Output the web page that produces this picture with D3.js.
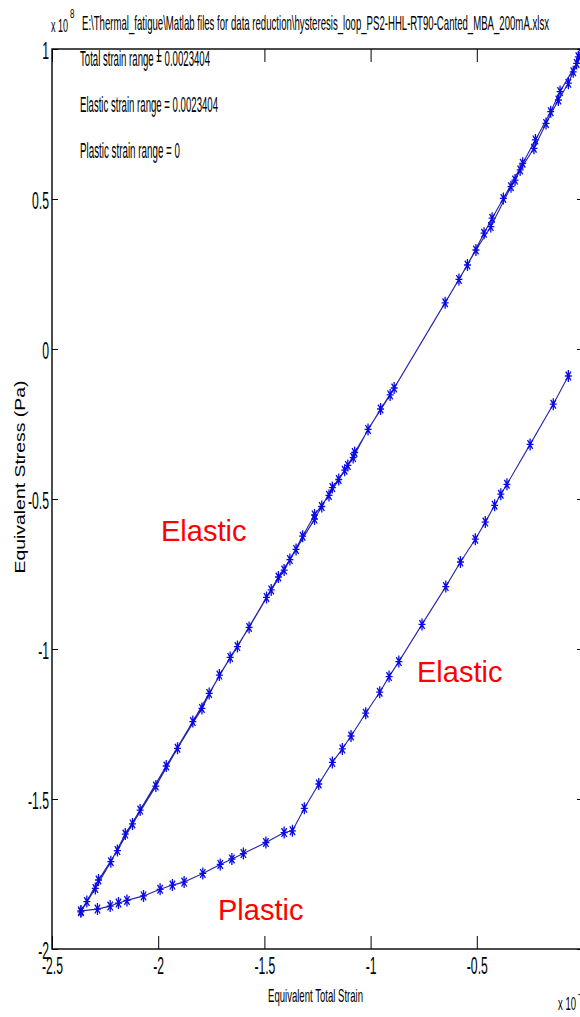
<!DOCTYPE html>
<html>
<head>
<meta charset="utf-8">
<script src="https://cdn.jsdelivr.net/npm/d3@7"></script>
<style>
  html, body { margin: 0; padding: 0; background: #fff; }
  svg { display: block; }
  text { font-family: "Liberation Sans", Arial, sans-serif; fill: #000; }
</style>
</head>
<body>
<svg id="chart" width="580" height="1017"></svg>
<script>
// Hysteresis loop: equivalent total strain (x 1e-3) vs equivalent stress (x 1e8 Pa)

// Loading branch, lower-left to upper-right
const loadStrain = [-2.364, -2.296, -2.223, -2.155, -2.085, -1.962, -1.837, -1.760, -1.661, -1.572,
  -1.468, -1.407, -1.351, -1.264, -1.230, -1.180, -1.122, -1.082, -1.012, -0.908,
  -0.649, -0.544, -0.466, -0.428, -0.375, -0.284, -0.224, -0.152, -0.108, -0.030, -0.022, -0.009];
const loadStress = [-1.876, -1.798, -1.709, -1.617, -1.537, -1.390, -1.242, -1.148, -1.028, -0.928,
  -0.803, -0.737, -0.668, -0.567, -0.525, -0.462, -0.404, -0.362, -0.268, -0.153,
  0.154, 0.280, 0.386, 0.436, 0.502, 0.619, 0.697, 0.791, 0.858, 0.952, 0.974, 0.987];

// Unloading branch, upper-right back to lower-left
const unloadStrain = [-0.046, -0.069, -0.116, -0.174, -0.231, -0.296, -0.320, -0.339, -0.434, -0.504,
  -0.584, -0.889, -0.953, -1.075, -1.107, -1.150, -1.196, -1.264, -1.320, -1.380,
  -1.434, -1.490, -1.627, -1.712, -1.794, -1.909, -2.011, -2.121, -2.192, -2.281, -2.336];
const unloadStress = [0.924, 0.886, 0.830, 0.752, 0.669, 0.597, 0.563, 0.541, 0.408, 0.330,
  0.232, -0.130, -0.200, -0.345, -0.388, -0.435, -0.488, -0.553, -0.624, -0.702,
  -0.760, -0.828, -0.992, -1.087, -1.198, -1.331, -1.457, -1.583, -1.672, -1.770, -1.842];

// Reloading branch: plastic flow followed by elastic recovery
const reloadStrain = [-2.364, -2.286, -2.226, -2.187, -2.147, -2.069, -1.991, -1.933, -1.878, -1.790,
  -1.708, -1.653, -1.599, -1.493, -1.407, -1.368, -1.312, -1.244, -1.180, -1.133,
  -1.092, -1.023, -0.957, -0.913, -0.867, -0.758, -0.646, -0.577, -0.507, -0.460,
  -0.416, -0.387, -0.358, -0.249, -0.140, -0.069];
const reloadStress = [-1.873, -1.867, -1.857, -1.847, -1.838, -1.823, -1.801, -1.787, -1.777, -1.748,
  -1.718, -1.700, -1.682, -1.645, -1.612, -1.606, -1.531, -1.450, -1.378, -1.333,
  -1.290, -1.214, -1.144, -1.092, -1.042, -0.918, -0.792, -0.710, -0.634, -0.577,
  -0.521, -0.484, -0.451, -0.318, -0.184, -0.090];

const xTicks = [-2.5, -2, -1.5, -1, -0.5, 0];
const xTickLabels = ["-2.5", "-2", "-1.5", "-1", "-0.5", ""];
const yTicks = [-2, -1.5, -1, -0.5, 0, 0.5, 1];
const yTickLabels = ["-2", "-1.5", "-1", "-0.5", "0", "0.5", "1"];

const titleText = "E:\\Thermal_fatigue\\Matlab files for data reduction\\hysteresis_loop_PS2-HHL-RT90-Canted_MBA_200mA.xlsx";
const infoLines = ["Total strain range = 0.0023404", "Elastic strain range = 0.0023404", "Plastic strain range = 0"];
const regionLabels = ["Elastic", "Elastic", "Plastic"];

// ---------------------------------------------------------------
const svg = d3.select("#chart");
svg.append("rect").attr("width", 580).attr("height", 1017).attr("fill", "#fff");

const L = 52, R = 583, T = 49, B = 949;
const x = d3.scaleLinear().domain([-2.5, 0]).range([L, R]);
const y = d3.scaleLinear().domain([-2, 1]).range([B, T]);
const SX = 0.53; // narrow glyphs

// loop line
const pts = [];
loadStrain.forEach((s, i) => pts.push([s, loadStress[i]]));
unloadStrain.forEach((s, i) => pts.push([s, unloadStress[i]]));
reloadStrain.forEach((s, i) => pts.push([s, reloadStress[i]]));

const line = d3.line().x(d => x(d[0])).y(d => y(d[1]));
svg.append("path").datum(pts)
  .attr("d", line)
  .attr("fill", "none")
  .attr("stroke", "#2626a8")
  .attr("stroke-width", 1.1)
  .attr("stroke-linejoin", "round");

// asterisk markers
const star = "M0,-6V6M-3.5,0H3.5M-2.6,-4.4L2.6,4.4M-2.6,4.4L2.6,-4.4";
svg.append("g").selectAll("path").data(pts).join("path")
  .attr("transform", d => `translate(${x(d[0])},${y(d[1])})`)
  .attr("d", star)
  .attr("fill", "none")
  .attr("stroke", "#0a0ae6")
  .attr("stroke-width", 1.3);

// axes
const styleTicks = g => {
  g.select(".domain").remove();
  g.selectAll(".tick line").attr("stroke", "#000").attr("stroke-width", 1);
};

const xAxis = svg.append("g").attr("transform", `translate(0,${B})`)
  .call(d3.axisBottom(x).tickValues(xTicks).tickFormat((d, i) => xTickLabels[i])
    .tickSizeInner(-13).tickSizeOuter(0).tickPadding(9));
styleTicks(xAxis);
xAxis.selectAll("text")
  .attr("font-size", 23).attr("font-family", "Liberation Sans, Arial, sans-serif")
  .attr("fill", "#000").attr("transform", `scale(${SX},1)`);

svg.append("g").attr("transform", `translate(0,${T})`)
  .call(d3.axisTop(x).tickValues(xTicks).tickFormat("").tickSizeInner(-13).tickSizeOuter(0))
  .call(styleTicks);

const yAxis = svg.append("g").attr("transform", `translate(${L},0)`)
  .call(d3.axisLeft(y).tickValues(yTicks).tickFormat((d, i) => yTickLabels[i])
    .tickSizeInner(-6).tickSizeOuter(0).tickPadding(3));
styleTicks(yAxis);
yAxis.selectAll("text")
  .attr("font-size", 23).attr("font-family", "Liberation Sans, Arial, sans-serif")
  .attr("fill", "#000").attr("x", -3 / SX).attr("dy", "0.42em")
  .attr("transform", `scale(${SX},1)`);

svg.append("g").attr("transform", `translate(${R},0)`)
  .call(d3.axisRight(y).tickValues(yTicks).tickFormat("").tickSizeInner(-6).tickSizeOuter(0))
  .call(styleTicks);

// axes box
svg.append("rect")
  .attr("x", L).attr("y", T).attr("width", R - L).attr("height", B - T)
  .attr("fill", "none").attr("stroke", "#000").attr("stroke-width", 1.4);

// narrow text helper
function narrowText(str, px, py, size, len, anchor) {
  return svg.append("text")
    .attr("x", px).attr("y", py)
    .attr("font-size", size)
    .attr("text-anchor", anchor || "start")
    .attr("textLength", len).attr("lengthAdjust", "spacingAndGlyphs")
    .text(str);
}

// exponent labels
narrowText("x 10", 51, 32, 19, 17);
narrowText("8", 70, 18, 12, 4.5);
narrowText("x 10", 558, 1010, 19, 18);
narrowText("-3", 578, 998, 12, 6);

// title and info text
narrowText(titleText, 82, 30, 21, 467);
narrowText(infoLines[0], 80, 66, 22, 130);
narrowText(infoLines[1], 80, 112, 22, 138);
narrowText(infoLines[2], 80, 158, 22, 100);

// axis titles
narrowText("Equivalent Total Strain", 268, 1002, 19, 95);
svg.append("text")
  .attr("transform", "translate(25,477) rotate(-90)")
  .attr("text-anchor", "middle")
  .attr("font-size", 14)
  .attr("textLength", 193).attr("lengthAdjust", "spacingAndGlyphs")
  .text("Equivalent Stress (Pa)");

// region annotations
const annot = [[161, 541], [417, 682], [218, 920]];
regionLabels.forEach((t, i) => {
  svg.append("text")
    .attr("x", annot[i][0]).attr("y", annot[i][1])
    .attr("font-family", "Lato, 'Open Sans', sans-serif")
    .attr("font-size", 29)
    .style("fill", "#ff0000")
    .text(t);
});
</script>
</body>
</html>
